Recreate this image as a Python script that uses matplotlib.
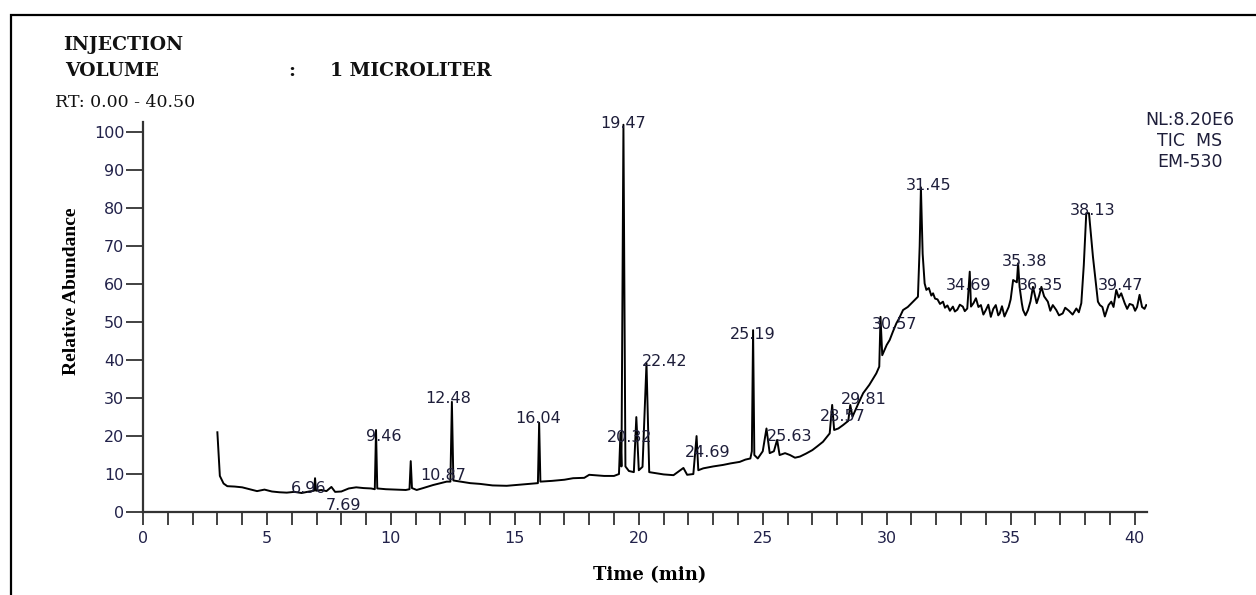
import matplotlib
matplotlib.use("Agg")
import matplotlib.pyplot as plt
from matplotlib.patches import Rectangle
from matplotlib.ticker import MultipleLocator

# ---------------- data ----------------
rt = [3.00, 3.05, 3.10, 3.25, 3.40, 3.7, 4.0, 4.3, 4.6, 4.9, 5.2, 5.5, 5.8, 6.1, 6.4, 6.7,
      6.9, 6.94, 6.98, 7.2, 7.4, 7.6, 7.75, 8.0, 8.3, 8.6, 8.9, 9.2, 9.35, 9.40, 9.45,
      9.8, 10.2, 10.6, 10.75, 10.8, 10.85, 11.04, 11.3, 11.7, 12.0, 12.25, 12.40, 12.46,
      12.52, 12.8, 13.2, 13.6, 14.1, 14.67, 15.2, 15.7, 15.93, 15.98, 16.03, 16.5, 17.0,
      17.35, 17.8, 18.0, 18.2, 18.6, 19.0, 19.2, 19.26, 19.30, 19.38, 19.46, 19.6, 19.8,
      19.9, 20.0, 20.15, 20.31, 20.42, 20.7, 21.0, 21.4, 21.8, 21.95, 22.2, 22.33, 22.4,
      22.6, 23.0, 23.4, 23.7, 24.07, 24.3, 24.5, 24.56, 24.61, 24.66, 24.8, 25.0, 25.15,
      25.28, 25.45, 25.58, 25.68, 25.9, 26.1, 26.3, 26.5, 26.75, 27.0, 27.2, 27.43, 27.7,
      27.8, 27.88, 28.05, 28.24, 28.45, 28.53, 28.62, 28.85, 29.05, 29.3, 29.58, 29.7,
      29.75, 29.82, 30.0, 30.12, 30.25, 30.39, 30.5, 30.66, 30.85, 31.06, 31.26, 31.33,
      31.38, 31.45, 31.53, 31.6, 31.7, 31.8, 31.87, 31.95, 32.05, 32.15, 32.27, 32.35,
      32.45, 32.55, 32.67, 32.75, 32.85, 32.95, 33.07, 33.15, 33.25, 33.35, 33.40, 33.5,
      33.6, 33.7, 33.8, 33.9, 34.0, 34.1, 34.2, 34.3, 34.4, 34.5, 34.56, 34.65, 34.75,
      34.83, 34.92, 35.0, 35.1, 35.25, 35.3, 35.36, 35.45, 35.5, 35.6, 35.7, 35.8, 35.9,
      36.05, 36.15, 36.24, 36.35, 36.5, 36.6, 36.7, 36.84, 36.95, 37.1, 37.2, 37.35, 37.5,
      37.65, 37.75, 37.85, 37.95, 38.05, 38.16, 38.32, 38.52, 38.6, 38.7, 38.8, 38.86,
      38.95, 39.06, 39.15, 39.26, 39.36, 39.46, 39.6, 39.7, 39.8, 39.93, 40.02, 40.1,
      40.2, 40.3, 40.4, 40.47]
abundance = [21.0, 15.0, 9.5, 7.5, 6.8, 6.7, 6.5, 6.0, 5.5, 5.9, 5.4, 5.2, 5.1, 5.3, 5.0, 5.4,
             5.6, 8.9, 5.6, 5.8, 5.5, 6.6, 5.3, 5.4, 6.2, 6.5, 6.3, 6.2, 6.0, 21.6, 6.2,
             6.0, 5.9, 5.8, 6.0, 13.4, 6.3, 5.8, 6.3, 7.1, 7.6, 8.0, 8.0, 29.0,
             8.3, 8.0, 7.6, 7.4, 7.0, 6.9, 7.2, 7.5, 7.6, 23.5, 8.0, 8.2, 8.5,
             8.9, 9.0, 9.8, 9.7, 9.5, 9.5, 10.0, 20.8, 12.0, 102.0, 12.0, 10.8, 10.5,
             25.0, 11.0, 11.9, 39.2, 10.5, 10.2, 9.9, 9.7, 11.6, 9.8, 10.0, 20.0, 11.0,
             11.5, 12.0, 12.4, 12.8, 13.2, 13.8, 14.1, 16.0, 47.9, 15.0, 14.1, 16.0, 22.0,
             15.5, 16.0, 19.0, 15.0, 15.5, 15.0, 14.3, 14.6, 15.4, 16.3, 17.3, 18.5, 20.7,
             28.2, 21.6, 22.0, 22.9, 24.0, 28.2, 25.1, 28.5, 31.3, 33.5, 36.5, 38.3,
             51.4, 41.3, 44.0, 45.3, 47.5, 49.7, 51.0, 53.2, 54.0, 55.4, 56.7, 70.0,
             85.5, 68.0, 60.2, 58.5, 59.0, 57.0, 57.6, 56.2, 56.0, 54.8, 55.4, 53.8,
             54.4, 53.0, 54.1, 52.8, 53.3, 54.6, 54.1, 52.9, 53.6, 63.3, 54.1, 55.0,
             56.3, 54.0, 54.5, 52.0, 53.2, 54.6, 51.4, 53.5, 54.5, 51.8, 52.3, 54.2, 51.5,
             52.7, 54.0, 56.0, 61.1, 60.5, 65.5, 59.3, 55.0, 53.2, 51.8, 53.2, 55.5, 59.3,
             55.0, 57.0, 59.3, 56.8, 55.4, 53.0, 54.5, 53.2, 51.8, 52.3, 53.8, 53.0, 52.0,
             53.6, 52.6, 55.0, 65.0, 78.7, 78.7, 67.2, 55.4, 54.5, 54.0, 51.5, 52.7,
             54.5, 55.4, 54.0, 58.5, 56.5, 57.6, 55.0, 53.5, 54.8, 54.5, 53.0, 54.0,
             57.2, 54.0, 53.5, 54.5]

peak_labels = ["6.96", "7.69", "9.46", "10.87", "12.48", "16.04", "19.47", "20.32",
               "22.42", "24.69", "25.19", "25.63", "28.57", "29.81", "30.57", "31.45",
               "34.69", "35.38", "36.35", "38.13", "39.47"]
label_rt = [6.69, 8.10, 9.72, 12.10, 12.30, 15.93, 19.35, 19.64, 21.05, 22.78, 24.58,
            26.09, 28.23, 29.07, 30.32, 31.71, 33.31, 35.56, 36.21, 38.31, 39.42]
label_abund = [6.3, 1.8, 19.8, 9.5, 30.0, 24.5, 102.4, 19.75, 39.6, 15.6, 46.8, 19.8,
               25.1, 29.5, 49.4, 85.9, 59.6, 65.9, 59.6, 79.5, 59.6]

x_ticks = [0, 5, 10, 15, 20, 25, 30, 35, 40]
y_ticks = [0, 10, 20, 30, 40, 50, 60, 70, 80, 90, 100]

header_line1 = "INJECTION"
header_line2 = "VOLUME"
header_colon = ":"
header_value = "1 MICROLITER"
range_text = "RT: 0.00 - 40.50"
info_lines = ["NL:8.20E6", "TIC  MS", "EM-530"]
x_label = "Time (min)"
y_label = "Relative Abundance"

# ---------------- figure ----------------
W, H = 1256, 595
fig = plt.figure(figsize=(W / 100, H / 100), dpi=100)
fig.patch.set_facecolor("white")


def fx(px):
    return px / W


def fy(py):
    return 1 - py / H


ax = fig.add_axes([fx(143), fy(512), (1147 - 143) / W, (512 - 121.7) / H])
ax.plot(rt, abundance, color="black", lw=1.4, solid_joinstyle="round")
ax.set_xlim(0, 40.5)
ax.set_ylim(0, 102.8)

for s in ["top", "right"]:
    ax.spines[s].set_visible(False)
for s in ["left", "bottom"]:
    ax.spines[s].set_linewidth(1.6)
    ax.spines[s].set_color("#333333")

tick_color = "#22224a"
ax.set_xticks(x_ticks)
ax.xaxis.set_minor_locator(MultipleLocator(1))
ax.set_yticks(y_ticks)
ax.tick_params(axis="x", which="both", direction="out", length=9, width=1.3,
               color="#333333", pad=5, labelsize=11.5, labelcolor=tick_color)
ax.tick_params(axis="y", which="both", direction="out", length=12, width=1.3,
               color="#333333", pad=1.5, labelsize=11.5, labelcolor=tick_color)
for lab in ax.get_xticklabels() + ax.get_yticklabels():
    lab.set_fontfamily("DejaVu Sans")

label_color = "#1e1e3a"
for txt, x, y in zip(peak_labels, label_rt, label_abund):
    ax.text(x, y, txt, ha="center", va="center", fontsize=11.5, color=label_color,
            family="DejaVu Sans")

# y label and x label
fig.text(fx(72), fy(291), y_label, rotation=90, ha="center", va="center",
         fontsize=14, fontweight="bold", family="Liberation Serif", color="black")
fig.text(fx(650), fy(575), x_label, ha="center", va="center",
         fontsize=13, fontweight="bold", family="DejaVu Serif", color="black")

# header
hdr = dict(fontsize=13.5, fontweight="bold", family="DejaVu Serif", color="#111111",
           va="center", ha="left")
fig.text(fx(63), fy(45), header_line1, **hdr)
fig.text(fx(65), fy(71), header_line2, **hdr)
fig.text(fx(288), fy(71), header_colon, **hdr)
fig.text(fx(330), fy(71), header_value, **hdr)
fig.text(fx(55), fy(102), range_text, fontsize=12.5, family="DejaVu Serif",
         color="#111111", va="center", ha="left")

# info block on the right
for txt, py in zip(info_lines, [120, 141, 162]):
    fig.text(fx(1190), fy(py), txt, ha="center", va="center", fontsize=12.5,
             family="DejaVu Sans", color="#1e1e3a")

# frame around the figure (top and left edges visible)
fig.add_artist(Rectangle((fx(10.5), -0.1), 1.2, fy(14.5) + 0.1,
                         transform=fig.transFigure, fill=False,
                         edgecolor="black", lw=1.6, clip_on=False))

fig.savefig("out.png", dpi=100)
